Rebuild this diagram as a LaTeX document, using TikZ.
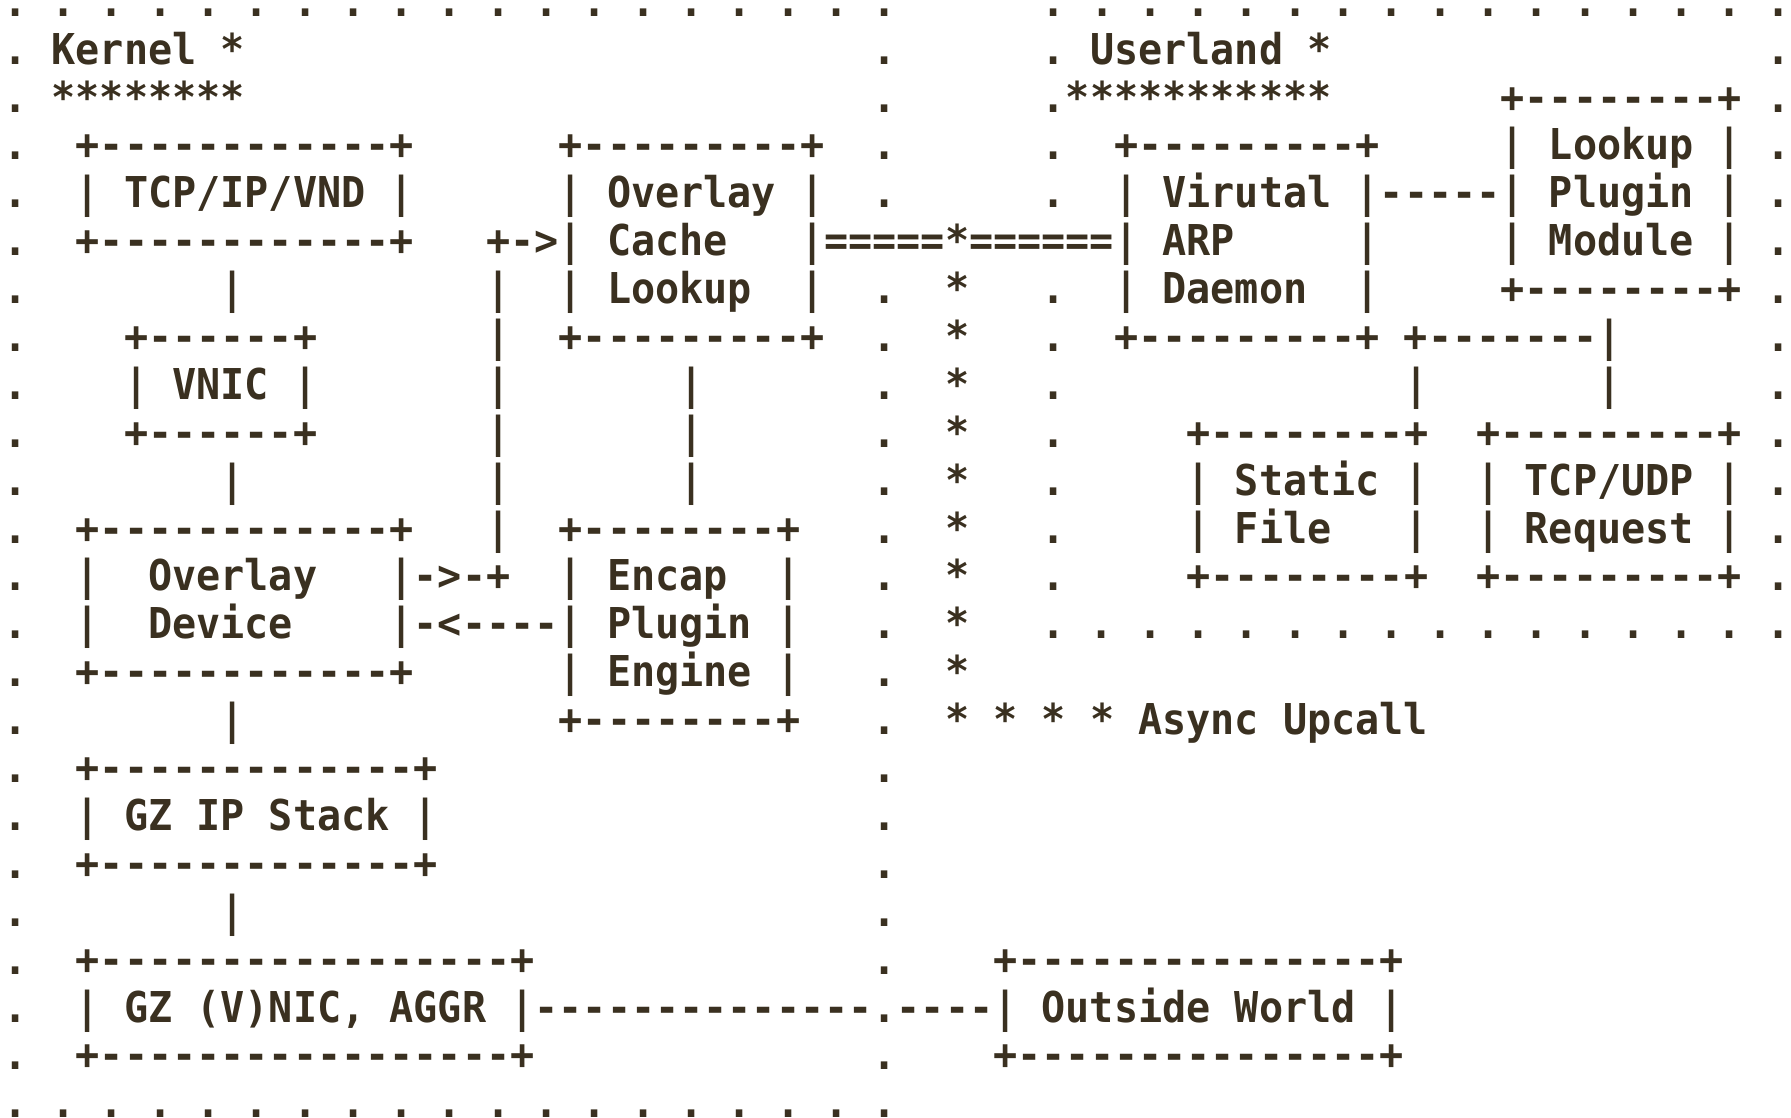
\documentclass[tikz,border=0pt]{standalone}
\usepackage{fontspec}
\usepackage{xcolor}
\newfontfamily\asciifont{DejaVu Sans Mono}[FakeStretch=0.944, Ligatures=TeXOff]
\definecolor{ink-brown}{RGB}{58, 48, 32}
\newcommand{\colgap}[1]{\hskip#1\fontcharwd\font`M\relax}

\begin{document}
\begin{tikzpicture}[x=12.077pt, y=-23.95pt,
    asciirow/.style={anchor=base west, inner sep=0pt, text=ink-brown,
        font=\asciifont\fontsize{21.25pt}{24pt}\selectfont\bfseries\frenchspacing}]
\useasboundingbox (-0.121,-0.340) rectangle (74.04,23.0);
\node[asciirow] (line0) at (0,0) {. . . . . . . . . . . . . . . . . . .\colgap{6}. . . . . . . . . . . . . . . .};
\node[asciirow] (line1) at (0,1) {. Kernel *\colgap{26}.\colgap{6}. Userland *\colgap{18}.};
\node[asciirow] (line2) at (0,2) {. ********\colgap{26}.\colgap{6}.***********\colgap{7}+--------+ .};
\node[asciirow] (line3) at (0,3) {.\colgap{2}+------------+\colgap{6}+---------+\colgap{2}.\colgap{6}.\colgap{2}+---------+\colgap{5}| Lookup | .};
\node[asciirow] (line4) at (0,4) {.\colgap{2}| TCP/IP/VND |\colgap{6}| Overlay |\colgap{2}.\colgap{6}.\colgap{2}| Virutal |-----| Plugin | .};
\node[asciirow] (line5) at (0,5) {.\colgap{2}+------------+\colgap{3}+->| Cache\colgap{3}|=====*======| ARP\colgap{5}|\colgap{5}| Module | .};
\node[asciirow] (line6) at (0,6) {.\colgap{8}|\colgap{10}|\colgap{2}| Lookup\colgap{2}|\colgap{2}.\colgap{2}*\colgap{3}.\colgap{2}| Daemon\colgap{2}|\colgap{5}+--------+ .};
\node[asciirow] (line7) at (0,7) {.\colgap{4}+------+\colgap{7}|\colgap{2}+---------+\colgap{2}.\colgap{2}*\colgap{3}.\colgap{2}+---------+ +-------|\colgap{6}.};
\node[asciirow] (line8) at (0,8) {.\colgap{4}| VNIC |\colgap{7}|\colgap{7}|\colgap{7}.\colgap{2}*\colgap{3}.\colgap{14}|\colgap{7}|\colgap{6}.};
\node[asciirow] (line9) at (0,9) {.\colgap{4}+------+\colgap{7}|\colgap{7}|\colgap{7}.\colgap{2}*\colgap{3}.\colgap{5}+--------+\colgap{2}+---------+ .};
\node[asciirow] (line10) at (0,10) {.\colgap{8}|\colgap{10}|\colgap{7}|\colgap{7}.\colgap{2}*\colgap{3}.\colgap{5}| Static |\colgap{2}| TCP/UDP | .};
\node[asciirow] (line11) at (0,11) {.\colgap{2}+------------+\colgap{3}|\colgap{2}+--------+\colgap{3}.\colgap{2}*\colgap{3}.\colgap{5}| File\colgap{3}|\colgap{2}| Request | .};
\node[asciirow] (line12) at (0,12) {.\colgap{2}|\colgap{2}Overlay\colgap{3}|->-+\colgap{2}| Encap\colgap{2}|\colgap{3}.\colgap{2}*\colgap{3}.\colgap{5}+--------+\colgap{2}+---------+ .};
\node[asciirow] (line13) at (0,13) {.\colgap{2}|\colgap{2}Device\colgap{4}|-<----| Plugin |\colgap{3}.\colgap{2}*\colgap{3}. . . . . . . . . . . . . . . .};
\node[asciirow] (line14) at (0,14) {.\colgap{2}+------------+\colgap{6}| Engine |\colgap{3}.\colgap{2}*};
\node[asciirow] (line15) at (0,15) {.\colgap{8}|\colgap{13}+--------+\colgap{3}.\colgap{2}* * * * Async Upcall};
\node[asciirow] (line16) at (0,16) {.\colgap{2}+-------------+\colgap{18}.};
\node[asciirow] (line17) at (0,17) {.\colgap{2}| GZ IP Stack |\colgap{18}.};
\node[asciirow] (line18) at (0,18) {.\colgap{2}+-------------+\colgap{18}.};
\node[asciirow] (line19) at (0,19) {.\colgap{8}|\colgap{26}.};
\node[asciirow] (line20) at (0,20) {.\colgap{2}+-----------------+\colgap{14}.\colgap{4}+---------------+};
\node[asciirow] (line21) at (0,21) {.\colgap{2}| GZ (V)NIC, AGGR |--------------.----| Outside World |};
\node[asciirow] (line22) at (0,22) {.\colgap{2}+-----------------+\colgap{14}.\colgap{4}+---------------+};
\node[asciirow] (line23) at (0,23) {. . . . . . . . . . . . . . . . . . .};
\end{tikzpicture}
\end{document}
